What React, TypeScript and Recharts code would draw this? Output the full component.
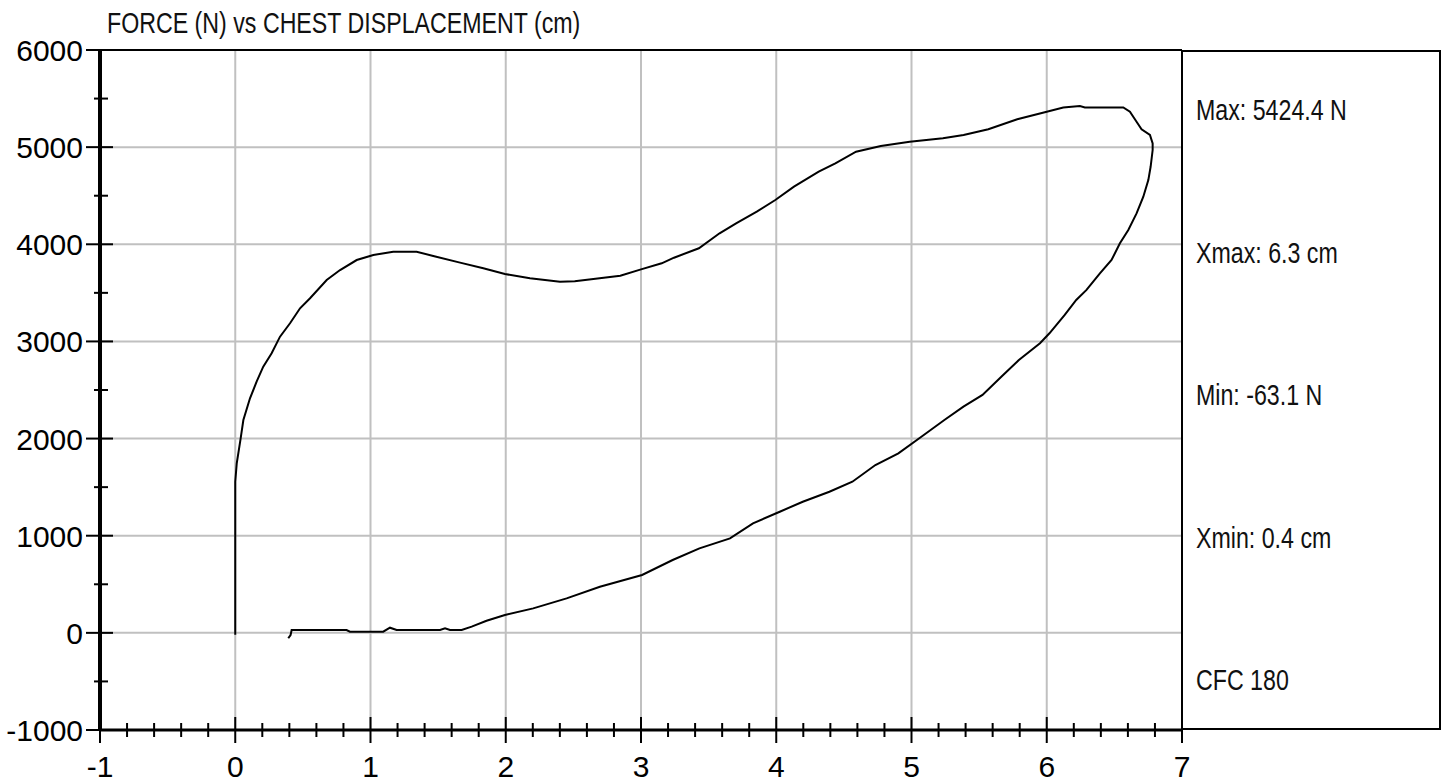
import { Line, LineChart, ReferenceLine, XAxis, YAxis } from "recharts";

// loading branch, chest displacement (cm) / force (N)
const loadDisp = [
  0, 0, 0.011, 0.04, 0.06, 0.109, 0.158, 0.207, 0.269, 0.331, 0.405, 0.479, 0.553, 0.676, 0.775,
  0.898, 1.021, 1.168, 1.341, 1.464, 1.662, 1.834, 1.994, 2.179, 2.401, 2.51, 2.694, 2.847, 3.0,
  3.153, 3.244, 3.428, 3.581, 3.703, 3.856, 3.993, 4.131, 4.314, 4.437, 4.59, 4.773, 4.987, 5.232,
  5.385, 5.568, 5.782, 6.0, 6.122, 6.245, 6.282, 6.566, 6.615, 6.664, 6.701, 6.763, 6.783, 6.783,
];
const loadForce = [
  -20, 1556, 1745, 2003, 2191, 2415, 2586, 2740, 2878, 3049, 3187, 3341, 3444, 3632, 3735,
  3838, 3890, 3924, 3924, 3880, 3811, 3753, 3694, 3650, 3615, 3620, 3650, 3677, 3742,
  3804, 3862, 3959, 4113, 4216, 4336, 4456, 4593, 4747, 4834, 4953, 5012, 5056, 5091,
  5125, 5184, 5287, 5365, 5409, 5424, 5409, 5409, 5365, 5262, 5184, 5125, 5039, 4970,
];

// unloading branch
const unloadDisp = [
  6.768, 6.751, 6.714, 6.664, 6.603, 6.541, 6.479, 6.393, 6.294, 6.218, 6.133, 6.02, 5.95, 5.794,
  5.666, 5.525, 5.384, 5.243, 5.073, 4.903, 4.733, 4.563, 4.393, 4.196, 4.026, 3.828, 3.658, 3.432,
  3.234, 3.008, 2.696, 2.45, 2.203, 1.994, 1.858, 1.748, 1.674, 1.588, 1.551, 1.514, 1.193, 1.144,
  1.094, 0.848, 0.823, 0.417, 0.409, 0.392,
];
const unloadForce = [
  4798, 4661, 4490, 4318, 4147, 4010, 3838, 3701, 3530, 3427, 3273, 3084, 2981, 2809,
  2638, 2449, 2329, 2191, 2019, 1848, 1728, 1556, 1453, 1350, 1247, 1127, 973, 870,
  750, 596, 475, 355, 252, 184, 125, 64, 29, 29, 47, 29, 29, 53,
  12, 12, 29, 29, -22, -56,
];

const xMajorTicks = [-1, 0, 1, 2, 3, 4, 5, 6, 7];
const yMajorTicks = [-1000, 0, 1000, 2000, 3000, 4000, 5000, 6000];
const gridX = [0, 1, 2, 3, 4, 5, 6];
const gridY = [0, 1000, 2000, 3000, 4000, 5000];

const title = "FORCE (N) vs CHEST DISPLACEMENT (cm)";
const statLabels = ["Max: 5424.4 N", "Xmax: 6.3 cm", "Min: -63.1 N", "Xmin: 0.4 cm", "CFC 180"];

const curve = [
  ...loadDisp.map((x, i) => ({ x, force: loadForce[i] })),
  ...unloadDisp.map((x, i) => ({ x, force: unloadForce[i] })),
];

// minor ticks every 0.2 cm and every 500 N
const xTicks = xMajorTicks.slice(0, -1).flatMap((m) => [0, 1, 2, 3, 4].map((k) => m + k / 5)).concat([7]);
const yTicks = yMajorTicks.slice(0, -1).flatMap((m) => [m, m + 500]).concat([6000]);

const TICK_FONT = "'Liberation Sans', Arial, sans-serif";

function XTick({ x, y, payload }: any) {
  const v = payload.value;
  const major = Math.abs(v - Math.round(v)) < 1e-6;
  const h = major ? 13 : 7;
  return (
    <g>
      <line x1={x} x2={x} y1={y - h} y2={y + h} stroke="#000" strokeWidth={2} />
      {major ? (
        <text x={x} y={y + 47} textAnchor="middle" fontSize={30} fontFamily={TICK_FONT} fill="#000">
          {Math.round(v)}
        </text>
      ) : null}
    </g>
  );
}

function YTick({ x, y, payload }: any) {
  const v = payload.value;
  const major = v % 1000 === 0;
  return (
    <g>
      <line x1={major ? x - 14 : x - 6} x2={major ? x + 13 : x + 8} y1={y} y2={y} stroke="#000" strokeWidth={2} />
      {major ? (
        <text x={x - 17} y={y + 11} textAnchor="end" fontSize={30} fontFamily={TICK_FONT} fill="#000">
          {v}
        </text>
      ) : null}
    </g>
  );
}

// no narrow font installed: squeeze Liberation Sans like Arial Narrow
function NarrowText({ x, y, children }: { x: number; y: number; children: string }) {
  return (
    <text transform={`translate(${x},${y}) scale(0.8,1)`} fontSize={29} fontFamily={TICK_FONT} fill="#111">
      {children}
    </text>
  );
}

export default function App() {
  return (
    <div style={{ position: "absolute", left: 0, top: 0, width: 1446, height: 783, background: "#fff" }}>
      <LineChart width={1446} height={783} data={curve} margin={{ top: 50, right: 264, bottom: 0, left: 0 }}>
        <XAxis
          type="number"
          dataKey="x"
          domain={[-1, 7]}
          ticks={xTicks}
          interval={0}
          height={53}
          tickSize={0}
          tickMargin={0}
          tickLine={false}
          axisLine={{ stroke: "#000", strokeWidth: 3 }}
          tick={<XTick />}
          allowDataOverflow
        />
        <YAxis
          type="number"
          domain={[-1000, 6000]}
          ticks={yTicks}
          interval={0}
          width={100}
          tickSize={0}
          tickMargin={0}
          tickLine={false}
          axisLine={{ stroke: "#000", strokeWidth: 4 }}
          tick={<YTick />}
          allowDataOverflow
        />
        {gridX.map((v) => (
          <ReferenceLine key={`gx${v}`} x={v} stroke="#c0c0c0" strokeWidth={2} />
        ))}
        {gridY.map((v) => (
          <ReferenceLine key={`gy${v}`} y={v} stroke="#c0c0c0" strokeWidth={2} />
        ))}
        <ReferenceLine y={6000} stroke="#000" strokeWidth={2} />
        <ReferenceLine x={7} stroke="#000" strokeWidth={2} />
        <Line
          type="linear"
          dataKey="force"
          stroke="#000"
          strokeWidth={2}
          dot={false}
          activeDot={false}
          isAnimationActive={false}
        />
      </LineChart>
      <svg width={1446} height={783} style={{ position: "absolute", left: 0, top: 0, pointerEvents: "none" }}>
        <NarrowText x={107} y={33}>{title}</NarrowText>
        <rect x={1182} y={51} width={258} height={678} fill="none" stroke="#000" strokeWidth={2} />
        {statLabels.map((label, i) => (
          <NarrowText key={label} x={1196} y={120 + i * 142.5}>
            {label}
          </NarrowText>
        ))}
      </svg>
    </div>
  );
}
